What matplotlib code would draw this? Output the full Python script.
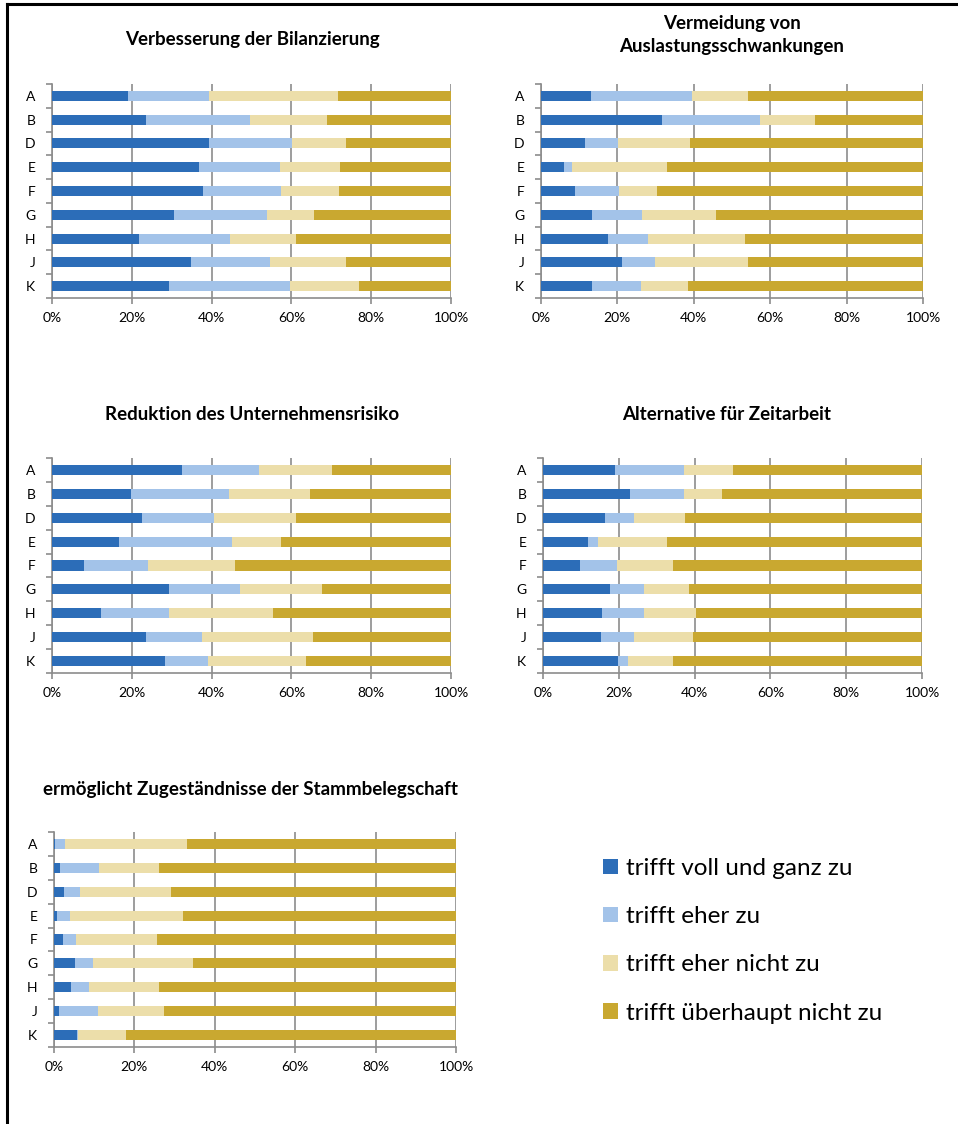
import matplotlib.pyplot as plt
from matplotlib.lines import Line2D
from matplotlib.patches import Patch
import numpy as np

plt.rcParams['font.family'] = ['Lato', 'DejaVu Sans']

categories = ['A', 'B', 'D', 'E', 'F', 'G', 'H', 'J', 'K']
series_names = ['trifft voll und ganz zu', 'trifft eher zu',
                'trifft eher nicht zu', 'trifft überhaupt nicht zu']
colors = ['#2C6DB8', '#A3C3E9', '#ECDEAA', '#C9A830']
x_ticks = [0, 20, 40, 60, 80, 100]
x_labels = ['0%', '20%', '40%', '60%', '80%', '100%']

# percentages per category (A..K), one list per answer
bil_voll = [19.0, 23.6, 39.4, 36.9, 37.8, 30.7, 21.9, 34.9, 29.4]
bil_eher = [20.3, 26.1, 20.8, 20.3, 19.7, 23.2, 22.8, 19.8, 30.2]
bil_eher_nicht = [32.5, 19.1, 13.5, 14.9, 14.5, 11.8, 16.5, 19.0, 17.4]
bil_nicht = [28.2, 31.2, 26.3, 27.9, 28.0, 34.3, 38.8, 26.3, 23.0]

aus_voll = [13.1, 31.8, 11.5, 6.0, 8.9, 13.3, 17.6, 21.3, 13.3]
aus_eher = [26.3, 25.5, 8.6, 2.1, 11.6, 13.1, 10.4, 8.6, 12.9]
aus_eher_nicht = [14.8, 14.5, 19.0, 24.8, 9.8, 19.4, 25.4, 24.4, 12.4]
aus_nicht = [45.8, 28.2, 60.9, 67.1, 69.7, 54.2, 46.6, 45.7, 61.4]

ris_voll = [32.7, 19.9, 22.6, 16.7, 7.9, 29.4, 12.2, 23.6, 28.2]
ris_eher = [19.3, 24.5, 17.9, 28.5, 16.2, 17.8, 17.0, 14.1, 11.0]
ris_eher_nicht = [18.3, 20.3, 20.7, 12.2, 21.7, 20.4, 26.3, 27.6, 24.5]
ris_nicht = [29.7, 35.3, 38.8, 42.6, 54.2, 32.4, 44.5, 34.7, 36.3]

zeit_voll = [18.9, 22.9, 16.3, 11.9, 9.8, 17.7, 15.6, 15.3, 19.7]
zeit_eher = [18.3, 14.3, 7.7, 2.6, 9.8, 8.9, 11.0, 8.7, 2.7]
zeit_eher_nicht = [12.8, 10.0, 13.4, 18.1, 14.8, 12.0, 13.9, 15.7, 11.9]
zeit_nicht = [50.0, 52.8, 62.6, 67.4, 65.6, 61.4, 59.5, 60.3, 65.7]

stamm_voll = [0.3, 1.4, 2.4, 0.8, 2.2, 5.1, 4.3, 1.2, 5.7]
stamm_eher = [2.4, 9.8, 4.0, 3.1, 3.2, 4.5, 4.3, 9.7, 0.2]
stamm_eher_nicht = [30.3, 14.8, 22.6, 28.2, 20.2, 25.0, 17.4, 16.4, 12.0]
stamm_nicht = [67.0, 74.0, 71.0, 67.9, 74.4, 65.4, 74.0, 72.7, 82.1]

panels = [
    ('Verbesserung der Bilanzierung',
     [bil_voll, bil_eher, bil_eher_nicht, bil_nicht]),
    ('Vermeidung von\nAuslastungsschwankungen',
     [aus_voll, aus_eher, aus_eher_nicht, aus_nicht]),
    ('Reduktion des Unternehmensrisiko',
     [ris_voll, ris_eher, ris_eher_nicht, ris_nicht]),
    ('Alternative für Zeitarbeit',
     [zeit_voll, zeit_eher, zeit_eher_nicht, zeit_nicht]),
    ('ermöglicht Zugeständnisse der Stammbelegschaft',
     [stamm_voll, stamm_eher, stamm_eher_nicht, stamm_nicht]),
]

W, H = 958, 1124
# axes boxes in pixels: left, top, right, bottom
boxes = [(52, 84, 451, 298), (541, 84, 923, 298),
         (52, 458, 451, 673), (543, 458, 922, 673),
         (54, 832, 456, 1047)]
title_pos = [(252, 40), (732, 35), (252, 414), (727, 414), (250, 790)]

fig = plt.figure(figsize=(W / 100, H / 100), dpi=100)

grid_col = '#8C8C8C'
for (title, series), (l, t, r, b), (tx, ty) in zip(panels, boxes, title_pos):
    ax = fig.add_axes([l / W, 1 - b / H, (r - l) / W, (b - t) / H])
    y = np.arange(len(categories))
    left = np.zeros(len(categories))
    for vals, c in zip(series, colors):
        ax.barh(y, vals, left=left, height=0.42, color=c, zorder=3)
        left += np.array(vals)
    ax.set_xlim(0, 100)
    ax.set_ylim(len(categories) - 0.5, -0.5)
    ax.set_xticks(x_ticks)
    ax.set_xticklabels(x_labels, fontsize=10)
    ax.set_yticks(np.arange(-0.5, len(categories)))
    ax.set_yticklabels([])
    ax.set_yticks(y, minor=True)
    ax.set_yticklabels(categories, minor=True, fontsize=10)
    ax.tick_params(axis='y', which='minor', length=0, pad=12)
    ax.tick_params(axis='y', which='major', length=4, color=grid_col, width=1.2)
    ax.tick_params(axis='x', length=4, color=grid_col, width=1.2, pad=6)
    ax.xaxis.grid(True, color=grid_col, linewidth=1.2, zorder=0)
    ax.set_axisbelow(True)
    for s in ['top', 'right']:
        ax.spines[s].set_visible(False)
    for s in ['left', 'bottom']:
        ax.spines[s].set_color(grid_col)
        ax.spines[s].set_linewidth(1.2)
    fig.text(tx / W, 1 - ty / H, title, ha='center', va='center',
             fontsize=13.5, fontweight='bold', linespacing=1.45)

handles = [Patch(facecolor=c, edgecolor='none') for c in colors]
fig.legend(handles, series_names, loc='upper left',
           bbox_to_anchor=(603 / W, 1 - 858 / H), frameon=False,
           fontsize=17.5, handlelength=0.6, handleheight=0.6,
           handletextpad=0.33, labelspacing=1.12, borderpad=0,
           borderaxespad=0)

# frame lines at left and top
fig.add_artist(Line2D([7 / W, 7 / W], [0, 1 - 4 / H], color='black',
                      linewidth=2.2, transform=fig.transFigure))
fig.add_artist(Line2D([7 / W, 1], [1 - 4 / H, 1 - 4 / H], color='black',
                      linewidth=2.2, transform=fig.transFigure))

fig.savefig('out.png', dpi=100)
